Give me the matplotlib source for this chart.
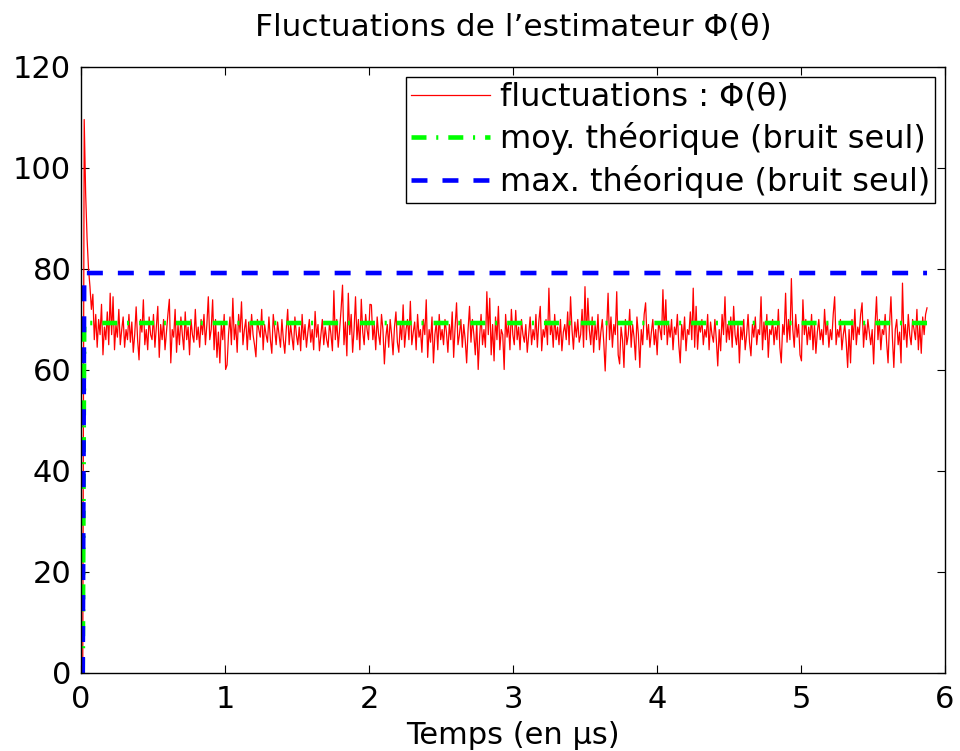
import numpy as np
import matplotlib
matplotlib.use("Agg")
import matplotlib.pyplot as plt

plt.rcParams['font.family'] = ['DejaVu Sans']
plt.rcParams['lines.scale_dashes'] = False

# estimator values, one list per microsecond
phi_seg0 = [0, 109.6, 95, 86, 80, 76.5, 72, 75, 66, 71,
            64.5, 70, 67, 73, 63, 68.5, 66, 71.5, 65, 75.2,
            67, 74.5, 64, 69, 66.5, 72, 65, 68, 70.5, 64.5,
            68, 66, 71, 65.5, 69.5, 63.5, 67, 72.5, 66, 62,
            70, 67.5, 73.9, 65, 68, 64, 70.5, 67, 66, 71,
            64.5, 68.5, 72.6, 62.5, 69, 66, 70, 64, 67.5, 71,
            74, 61.4, 68, 66.5, 72, 63.5, 69, 65, 70.5, 67,
            64, 71.5, 66, 68.5, 63, 70, 67, 65.5, 72, 66,
            68.5, 64.5, 70, 67, 71, 65, 69, 74.5, 66, 68,
            73.9, 64, 70, 62.5, 67.5, 61.4, 69, 66, 71, 60.1]
phi_seg1 = [61, 67, 70.5, 65, 74.2, 66, 69, 63.5, 71, 67.5,
            73.5, 65, 68, 70, 64, 69.5, 66, 71, 67, 65,
            62.6, 70, 68, 66.5, 72, 64, 69, 67, 65.5, 70.5,
            66, 63.3, 71, 68, 65, 69.5, 67, 64.5, 70, 66,
            63.3, 68, 72, 65, 69, 66.5, 64, 70.5, 67, 65,
            68.5, 63.8, 71, 66, 69, 64.5, 67.5, 70, 65.5, 68,
            64, 71.6, 66.5, 69, 63.8, 67, 70, 65, 68.5, 66,
            64.5, 69.5, 67, 63.8, 75.7, 66, 70, 64.5, 68, 72,
            76.8, 65, 69.5, 62.8, 75.2, 67, 71, 63.5, 68, 74.5,
            66, 70, 64, 74, 67.5, 65, 71, 68, 66, 73]
phi_seg2 = [72.9, 66, 69, 64, 70.5, 67, 65, 71, 68, 61.2,
            66.5, 69, 64.5, 70, 67, 63, 68.5, 71.5, 65.5, 63.5,
            69, 66, 72.9, 64.5, 68, 70, 66, 73.6, 65, 67.5,
            69.5, 64, 71, 66.5, 68, 63.5, 70, 67, 73.9, 62.5,
            68, 65.5, 70.5, 61.4, 67, 69.5, 64, 71, 66, 68,
            65, 70, 67.5, 63.5, 69, 66, 71.5, 62.5, 68.5, 73.3,
            65, 67, 70, 64.5, 69, 66, 61.4, 68, 72.6, 65.5,
            70, 67, 63, 69.5, 60.1, 66.5, 71, 65, 68, 64.5,
            75.5, 67, 74.2, 63, 69, 61.8, 70.5, 66, 72.6, 64,
            68, 67, 60.1, 71, 66.5, 69, 64, 72, 67, 65]
phi_seg3 = [71.8, 66, 68.5, 64, 70, 67, 65.5, 69, 63.5, 67,
            70.5, 65, 68, 66, 71, 64.5, 69.5, 72.6, 63.8, 68,
            66.5, 70, 65, 76.2, 67, 69, 64.5, 71, 66, 68.5,
            65, 70, 63.8, 67.5, 69, 66, 71.5, 65, 74.5, 68,
            64.1, 69.5, 66.5, 70, 65.5, 67, 72, 64.5, 76.5, 66,
            74.2, 68, 65, 70.5, 63.5, 69, 66, 71, 64, 67.5,
            70, 65.5, 59.8, 68, 75.2, 66, 70.5, 64.5, 69, 67,
            75.5, 63, 61.2, 68.5, 66, 60.5, 70, 65, 67, 72,
            64.5, 69, 66.5, 62, 70.5, 67, 60.5, 68, 65, 71,
            73.3, 66, 69, 64.5, 67.5, 70, 65, 68, 63, 69.5]
phi_seg4 = [68, 66, 75.9, 67, 73.9, 65, 69, 66.5, 70, 64,
            68.5, 67, 71, 65, 61.4, 69, 66, 70.5, 63.8, 68,
            67, 71.5, 66, 76.2, 64.5, 72.6, 64.1, 69, 67.5, 70,
            65, 68, 66.5, 71, 64, 69.5, 67, 65.5, 70, 66,
            60.8, 68, 63.8, 71, 67, 74.5, 65.5, 69, 66, 70.5,
            64.5, 72.6, 67, 65, 69, 61.4, 68.5, 66, 70, 64,
            67, 71, 65.5, 62.8, 69, 66.5, 70.5, 65, 68, 67,
            74.5, 64, 69.5, 66, 71, 62.5, 68, 67, 70, 65,
            68.5, 66, 72, 64.5, 61.4, 69, 67, 75.2, 65.5, 70,
            66, 78.1, 68, 64.5, 71, 66.5, 69, 63, 61.8, 73.9]
phi_seg5 = [67, 70, 65, 68.5, 66, 71, 64, 69, 63.3, 67.5,
            70, 66, 68, 65, 72, 67, 69.5, 64.5, 68, 66,
            71, 74.5, 65, 68, 66.5, 70, 64, 67, 69, 65.5,
            60.5, 68, 61.4, 70, 66, 72, 65, 68.5, 67, 71,
            73.3, 64.5, 69, 66, 70, 67.5, 65, 68, 61.2, 69,
            74.5, 66, 70, 64, 68, 67, 71, 65.5, 61.4, 69,
            74.5, 66.5, 60.5, 68, 70, 65, 67.5, 61.4, 77.2, 66,
            69, 64.5, 71, 67, 65, 70, 68, 66, 72, 64,
            69, 63.3, 70.5, 67, 71, 72.3]

t_start = 0.012   # µs
t_end = 5.875     # µs
moy_theo = 69.3
max_theo = 79.2

phi = np.array(phi_seg0 + phi_seg1 + phi_seg2 + phi_seg3 + phi_seg4 + phi_seg5)
t = np.linspace(t_start, t_end, len(phi))

fig = plt.figure(figsize=(9.6, 7.51), dpi=100)
ax = fig.add_axes([0.0844, 0.1039, 0.9, 0.8069])

ax.plot(t, phi, color="red", lw=0.9, label=u"fluctuations : \u03a6(\u03b8)")
ax.plot([t[0], t[1], t[-1]], [0, moy_theo, moy_theo], color="#00ff00", lw=3.3,
        dashes=(10.8, 7.0, 1.5, 7.2), label=u"moy. théorique (bruit seul)")
ax.plot([t[0], t[1], t[-1]], [0, max_theo, max_theo], color="#0000ff", lw=3.3,
        dashes=(11.5, 10.8), label=u"max. théorique (bruit seul)")

ax.set_xlim(0, 6)
ax.set_ylim(0, 120)
ax.set_xticks(range(0, 7))
ax.set_yticks(range(0, 121, 20))
ax.tick_params(direction="in", top=True, right=True, length=6, width=0.8,
               labelsize=22)
ax.tick_params(axis="x", pad=9)
ax.tick_params(axis="y", pad=7)
for s in ax.spines.values():
    s.set_linewidth(1.0)

ax.set_title(u"Fluctuations de l\u2019estimateur \u03a6(\u03b8)", fontsize=22.5, pad=22)
ax.set_xlabel(u"Temps (en \u00b5s)", fontsize=22, labelpad=5)

leg = ax.legend(loc="upper right", fontsize=23, fancybox=False, edgecolor="black",
                framealpha=1, handlelength=2.5, labelspacing=0.3,
                borderaxespad=0.3, borderpad=0.16, handletextpad=0.3)
leg.get_frame().set_linewidth(1.0)

fig.savefig("out.png", dpi=100)
